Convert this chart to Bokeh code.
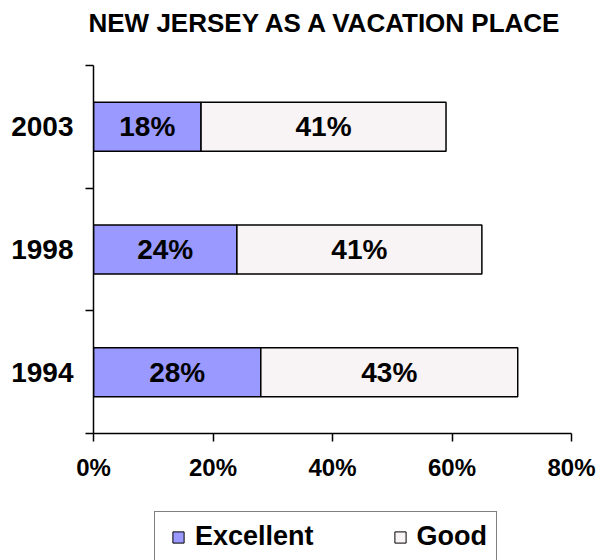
from bokeh.plotting import figure
from bokeh.layouts import column
from bokeh.models import (ColumnDataSource, FixedTicker, Legend, LegendItem,
                          PrintfTickFormatter, Range1d, Title)
from bokeh.core.properties import value
from bokeh.embed import file_html
from bokeh.resources import INLINE

# ---- data ----
years = ["1994", "1998", "2003"]
excellent = [28, 24, 18]
good = [43, 41, 41]
x_ticks = [0, 20, 40, 60, 80]
series_names = ["Excellent", "Good"]
title_text = "NEW JERSEY AS A VACATION PLACE"

FONT = "Liberation Sans"
EXC_COLOR = "#9999FF"
GOOD_COLOR = "#F8F3F4"
W = 599

ypos = [i + 0.5 for i in range(len(years))]
good_end = [e + g for e, g in zip(excellent, good)]

src = ColumnDataSource(dict(
    y=ypos,
    exc_end=excellent,
    good_end=good_end,
    exc_mid=[e / 2 for e in excellent],
    good_mid=[e + g / 2 for e, g in zip(excellent, good)],
    exc_lbl=[f"{e}%" for e in excellent],
    good_lbl=[f"{g}%" for g in good],
))

# ---------- title strip ----------
p_title = figure(width=W, height=50, output_backend="svg", toolbar_location=None,
                 x_axis_type=None, y_axis_type=None,
                 min_border_left=93, min_border_right=28,
                 min_border_top=0, min_border_bottom=0)
p_title.outline_line_color = None
p_title.title = Title(text=title_text, align="left", offset=-5,
                      text_font=FONT, text_font_style="bold",
                      text_font_size="26px", text_color="black",
                      vertical_align="top", standoff=14)

# ---------- main chart ----------
p = figure(width=W, height=450, output_backend="svg", toolbar_location=None,
           x_range=Range1d(0, 80), y_range=Range1d(0, len(years)),
           min_border_left=93, min_border_right=28,
           min_border_top=15, min_border_bottom=67)
p.outline_line_color = None
p.xgrid.visible = False
p.ygrid.visible = False

p.hbar(y="y", left=0, right="exc_end", height=0.4, source=src,
       fill_color=EXC_COLOR, line_color="black", line_width=1.5)
p.hbar(y="y", left="exc_end", right="good_end", height=0.4, source=src,
       fill_color=GOOD_COLOR, line_color="black", line_width=1.5)

for xcol, tcol in (("exc_mid", "exc_lbl"), ("good_mid", "good_lbl")):
    p.text(x=xcol, y="y", text=tcol, source=src, text_align="center",
           text_baseline="middle", text_font=value(FONT), text_font_style="bold",
           text_font_size="28px", text_color="black")

xa = p.xaxis[0]
xa.ticker = FixedTicker(ticks=x_ticks)
xa.formatter = PrintfTickFormatter(format="%d%%")
xa.major_tick_in = 0
xa.major_tick_out = 8
xa.minor_tick_out = 0
xa.minor_tick_in = 0
xa.axis_line_width = 1.5
xa.major_tick_line_width = 1.5
xa.major_label_text_font = FONT
xa.major_label_text_font_style = "bold"
xa.major_label_text_font_size = "24px"
xa.major_label_text_color = "black"
xa.major_label_standoff = 12

ya = p.yaxis[0]
ya.ticker = FixedTicker(ticks=ypos, minor_ticks=list(range(len(years) + 1)))
ya.major_label_overrides = {y: yr for y, yr in zip(ypos, years)}
ya.major_tick_in = 0
ya.major_tick_out = 0
ya.minor_tick_in = 0
ya.minor_tick_out = 8
ya.minor_tick_line_color = "black"
ya.minor_tick_line_width = 1.5
ya.axis_line_width = 1.5
ya.major_label_text_font = FONT
ya.major_label_text_font_style = "bold"
ya.major_label_text_font_size = "28px"
ya.major_label_text_color = "black"
ya.major_label_standoff = 12

# ---------- legend strip ----------
# the legend swatches come from proxy renderers that hold the same data but
# lie outside this strip's (empty) view, so only the legend is visible here
p_leg = figure(width=W, height=60, output_backend="svg", toolbar_location=None,
               x_axis_type=None, y_axis_type=None,
               x_range=Range1d(1000, 1001), y_range=Range1d(1000, 1001),
               min_border_left=0, min_border_right=0,
               min_border_top=0, min_border_bottom=0)
p_leg.outline_line_color = None
leg_exc = p_leg.scatter(x="exc_end", y="y", source=src, marker="square",
                        fill_color=EXC_COLOR, line_color="black", line_width=1)
leg_good = p_leg.scatter(x="good_end", y="y", source=src, marker="square",
                         fill_color=GOOD_COLOR, line_color="black", line_width=1)
legend = Legend(items=[LegendItem(label=series_names[0], renderers=[leg_exc]),
                       LegendItem(label=series_names[1], renderers=[leg_good])],
                orientation="horizontal", location=(61, -2), margin=0,
                glyph_width=28, glyph_height=28, label_standoff=3,
                spacing=72, padding=9, label_height=28,
                label_text_font=FONT, label_text_font_style="bold",
                label_text_font_size="27px", label_text_color="black",
                border_line_color="black", border_line_width=1.5,
                background_fill_color="white", background_fill_alpha=1.0)
p_leg.add_layout(legend, "center")

open("out.html", "w").write(file_html(column(p_title, p, p_leg), INLINE))
